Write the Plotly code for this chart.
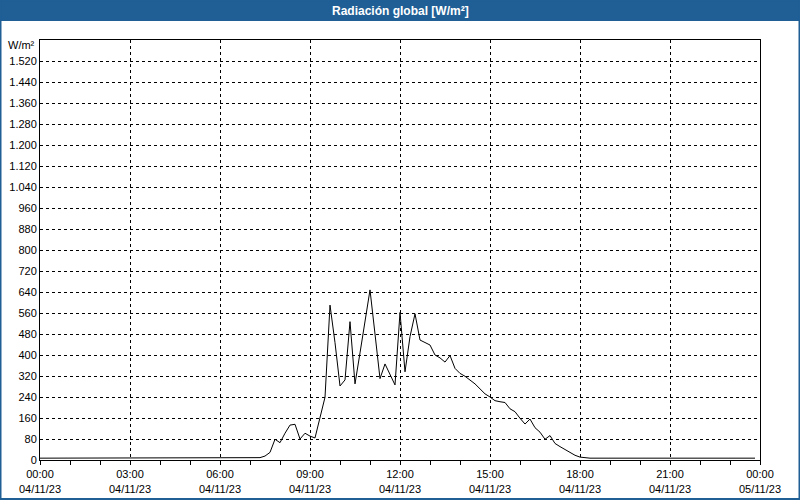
import plotly.graph_objects as go
import pandas as pd

# 10-minute samples, 04/11/23 00:00 .. 23:50
times = pd.date_range("2023-11-04 00:00", periods=144, freq="10min")
radiation = [
    7, 7, 7, 7, 7, 7, 7, 7, 7, 7, 7, 7,
    7, 7, 7, 7, 7, 7, 7, 7, 7, 7, 7, 7,
    7, 7, 7, 7, 7, 7, 7, 7, 7, 7, 7, 7,
    7, 7, 7, 7, 7, 7, 7, 7, 9, 15, 29, 79,
    66, 102, 133, 136, 80, 102, 91, 84, 159, 239, 590, 447,
    282, 305, 527, 290, 408, 528, 648, 480, 310, 366, 324, 286,
    562, 336, 470, 557, 457, 447, 438, 400, 389, 373, 398, 349,
    330, 319, 305, 290, 271, 252, 240, 226, 222, 219, 195, 184,
    159, 137, 156, 123, 106, 79, 93, 63, 51, 40, 28, 18,
    11, 8, 7, 7, 7, 7, 7, 7, 7, 7, 7, 7,
    7, 7, 7, 7, 7, 7, 7, 7, 7, 7, 7, 7,
    7, 7, 7, 7, 7, 7, 7, 7, 7, 7, 7, 7,
]

x_tickvals = ["2023-11-04 00:00", "2023-11-04 03:00", "2023-11-04 06:00",
              "2023-11-04 09:00", "2023-11-04 12:00", "2023-11-04 15:00",
              "2023-11-04 18:00", "2023-11-04 21:00", "2023-11-05 00:00"]
x_ticktext = ["00:00<br>04/11/23", "03:00<br>04/11/23", "06:00<br>04/11/23",
              "09:00<br>04/11/23", "12:00<br>04/11/23", "15:00<br>04/11/23",
              "18:00<br>04/11/23", "21:00<br>04/11/23", "00:00<br>05/11/23"]
y_tickvals = [0, 80, 160, 240, 320, 400, 480, 560, 640, 720, 800, 880, 960,
              1040, 1120, 1200, 1280, 1360, 1440, 1520]
y_ticktext = ["0", "80", "160", "240", "320", "400", "480", "560", "640", "720",
              "800", "880", "960", "1.040", "1.120", "1.200", "1.280", "1.360",
              "1.440", "1.520"]

title_text = "Radiación global [W/m²]"
unit_text = "W/m²"
BLUE = "#1F5F96"

fig = go.Figure()
fig.add_trace(go.Scatter(x=times, y=radiation, mode="lines",
                         line=dict(color="black", width=1), hoverinfo="skip"))

W, H = 800, 500
L, R, T, B = 40, 40, 40, 40
pw, ph = W - L - R, H - T - B


def px_x(p):
    return (p - L) / pw


def px_y(p):
    return (H - B - p) / ph


fig.update_layout(
    width=W, height=H,
    margin=dict(l=L, r=R, t=T, b=B, autoexpand=False),
    paper_bgcolor="white", plot_bgcolor="white",
    showlegend=False,
    font=dict(family="Liberation Sans, Arial, sans-serif", size=11, color="black"),
    xaxis=dict(
        type="date", automargin=False,
        range=["2023-11-04 00:00", "2023-11-05 00:00"],
        tickmode="array", tickvals=x_tickvals, ticktext=x_ticktext,
        ticks="outside", ticklen=4, tickcolor="black", tickwidth=1,
        minor=dict(dtick=3600000, ticks="outside", ticklen=4, tickcolor="black",
                   showgrid=False),
        showgrid=True, gridcolor="black", gridwidth=1, griddash="3px,3px",
        showline=True, linecolor="black", linewidth=1, mirror=True,
        zeroline=False, fixedrange=True,
    ),
    yaxis=dict(
        range=[0, 1600], automargin=False,
        tickmode="array", tickvals=y_tickvals, ticktext=y_ticktext,
        ticks="", showgrid=True, gridcolor="black", gridwidth=1,
        griddash="3px,3px",
        showline=True, linecolor="black", linewidth=1, mirror=True,
        zeroline=False, fixedrange=True,
    ),
    shapes=[
        dict(type="rect", xref="paper", yref="paper",
             x0=px_x(0), x1=px_x(W), y0=px_y(21), y1=px_y(0),
             fillcolor=BLUE, line=dict(width=0), layer="above"),
        dict(type="rect", xref="paper", yref="paper",
             x0=px_x(0.5), x1=px_x(W - 0.5), y0=px_y(H - 1), y1=px_y(0.5),
             fillcolor="rgba(0,0,0,0)", line=dict(color=BLUE, width=2),
             layer="above"),
    ],
    annotations=[
        dict(text="<b>" + title_text + "</b>", xref="paper", yref="paper",
             x=px_x(W / 2), y=px_y(10.5), xanchor="center", yanchor="middle",
             showarrow=False, font=dict(color="white", size=12)),
        dict(text=unit_text, xref="paper", yref="paper",
             x=px_x(37), y=px_y(45), xanchor="right", yanchor="middle",
             showarrow=False, font=dict(size=11)),
    ],
)

fig.write_html("out.html")
